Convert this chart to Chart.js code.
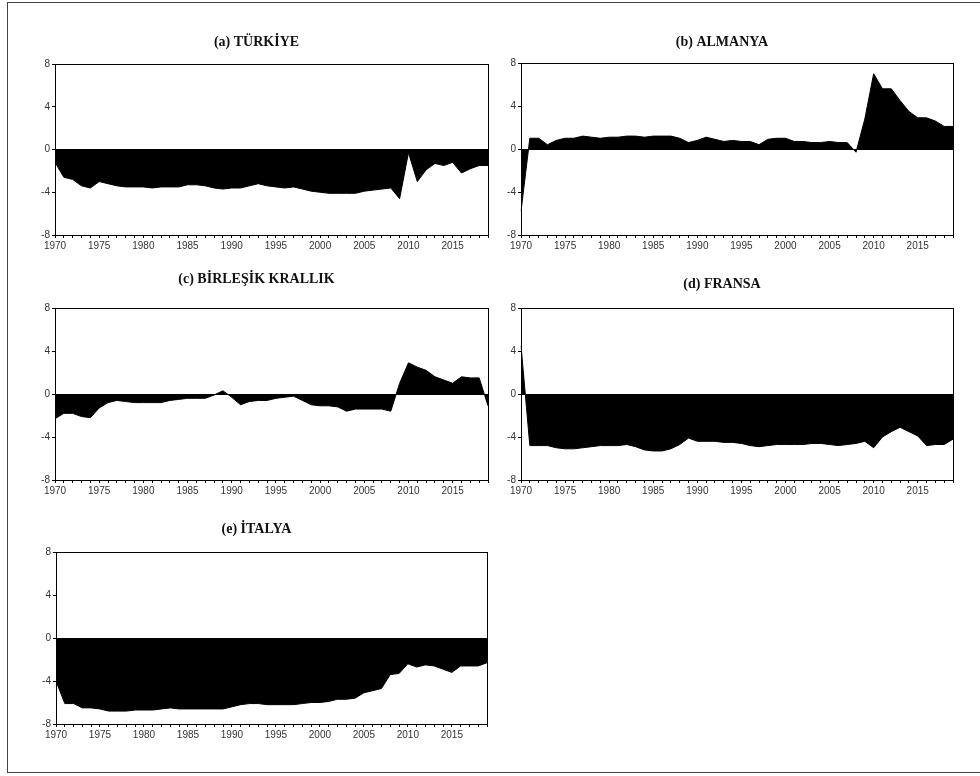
<!DOCTYPE html>
<html>
<head>
<meta charset="utf-8">
<script src="https://cdn.jsdelivr.net/npm/chart.js@4/dist/chart.umd.min.js"></script>
<style>
  body { margin: 0; background: #fff; width: 980px; height: 776px; overflow: hidden; position: relative; }
  #frame { position: absolute; left: 7px; top: 2px; width: 990px; height: 771px; border: 1px solid #444; box-sizing: border-box; }
  canvas { position: absolute; }
</style>
</head>
<body>
<div id="frame"></div>
<canvas id="c0"></canvas>
<canvas id="c1"></canvas>
<canvas id="c2"></canvas>
<canvas id="c3"></canvas>
<canvas id="c4"></canvas>
<script>
const years = [1970, 1971, 1972, 1973, 1974, 1975, 1976, 1977, 1978, 1979,
  1980, 1981, 1982, 1983, 1984, 1985, 1986, 1987, 1988, 1989,
  1990, 1991, 1992, 1993, 1994, 1995, 1996, 1997, 1998, 1999,
  2000, 2001, 2002, 2003, 2004, 2005, 2006, 2007, 2008, 2009,
  2010, 2011, 2012, 2013, 2014, 2015, 2016, 2017, 2018, 2019];
const yTicks = [8, 4, 0, -4, -8];

const turkiye = [-1.2, -2.6, -2.8, -3.4, -3.6, -3.0, -3.2, -3.4, -3.5, -3.5,
  -3.5, -3.6, -3.5, -3.5, -3.5, -3.3, -3.3, -3.4, -3.6, -3.7,
  -3.6, -3.6, -3.4, -3.2, -3.4, -3.5, -3.6, -3.5, -3.7, -3.9,
  -4.0, -4.1, -4.1, -4.1, -4.1, -3.9, -3.8, -3.7, -3.6, -4.6,
  -0.3, -3.0, -1.9, -1.3, -1.5, -1.2, -2.2, -1.8, -1.5, -1.5];
const almanya = [-5.8, 1.0, 1.0, 0.4, 0.8, 1.0, 1.0, 1.2, 1.1, 1.0,
  1.1, 1.1, 1.2, 1.2, 1.1, 1.2, 1.2, 1.2, 1.0, 0.6,
  0.8, 1.1, 0.9, 0.7, 0.8, 0.7, 0.7, 0.4, 0.9, 1.0,
  1.0, 0.7, 0.7, 0.6, 0.6, 0.7, 0.6, 0.6, -0.3, 2.8,
  7.0, 5.6, 5.6, 4.5, 3.5, 2.9, 2.9, 2.6, 2.1, 2.1];
const birlesikKrallik = [-2.3, -1.8, -1.8, -2.1, -2.2, -1.3, -0.8, -0.6, -0.7, -0.8,
  -0.8, -0.8, -0.8, -0.6, -0.5, -0.4, -0.4, -0.4, -0.1, 0.3,
  -0.3, -1.0, -0.7, -0.6, -0.6, -0.4, -0.3, -0.2, -0.6, -1.0,
  -1.1, -1.1, -1.2, -1.6, -1.4, -1.4, -1.4, -1.4, -1.6, 1.0,
  2.9, 2.5, 2.2, 1.6, 1.3, 1.0, 1.6, 1.5, 1.5, -1.1];
const fransa = [4.5, -4.8, -4.8, -4.8, -5.0, -5.1, -5.1, -5.0, -4.9, -4.8,
  -4.8, -4.8, -4.7, -4.9, -5.2, -5.3, -5.3, -5.1, -4.7, -4.1,
  -4.4, -4.4, -4.4, -4.5, -4.5, -4.6, -4.8, -4.9, -4.8, -4.7,
  -4.7, -4.7, -4.7, -4.6, -4.6, -4.7, -4.8, -4.7, -4.6, -4.4,
  -5.0, -4.0, -3.5, -3.1, -3.5, -3.9, -4.8, -4.7, -4.7, -4.2];
const italya = [-4.0, -6.1, -6.1, -6.5, -6.5, -6.6, -6.8, -6.8, -6.8, -6.7,
  -6.7, -6.7, -6.6, -6.5, -6.6, -6.6, -6.6, -6.6, -6.6, -6.6,
  -6.4, -6.2, -6.1, -6.1, -6.2, -6.2, -6.2, -6.2, -6.1, -6.0,
  -6.0, -5.9, -5.7, -5.7, -5.6, -5.1, -4.9, -4.7, -3.4, -3.3,
  -2.4, -2.7, -2.5, -2.6, -2.9, -3.2, -2.6, -2.6, -2.6, -2.3];

// plot boxes
const panels = [
  { id: 'c0', title: '(a) TÜRKİYE', data: turkiye, left: 55, right: 488, top: 64, bottom: 235, titleY: 42 },
  { id: 'c1', title: '(b) ALMANYA', data: almanya, left: 521, right: 953, top: 63, bottom: 235, titleY: 42 },
  { id: 'c2', title: '(c) BİRLEŞİK KRALLIK', data: birlesikKrallik, left: 55, right: 488, top: 308, bottom: 480, titleY: 279 },
  { id: 'c3', title: '(d) FRANSA', data: fransa, left: 521, right: 953, top: 308, bottom: 480, titleY: 284 },
  { id: 'c4', title: '(e) İTALYA', data: italya, left: 56, right: 487, top: 552, bottom: 724, titleY: 529 }
];

const frameBox = {
  id: 'frameBox',
  afterDatasetsDraw(chart) {
    const a = chart.chartArea;
    const ctx = chart.ctx;
    ctx.save();
    ctx.strokeStyle = '#000';
    ctx.lineWidth = 1;
    ctx.strokeRect(Math.round(a.left) + 0.5, Math.round(a.top) + 0.5, Math.round(a.right - a.left), Math.round(a.bottom - a.top));
    ctx.restore();
  }
};

panels.forEach(p => {
  const cv = document.getElementById(p.id);
  const cTop = p.titleY - 15;
  const w = p.right - p.left + 60;
  const h = p.bottom + 25 - cTop;
  cv.style.left = (p.left - 50) + 'px';
  cv.style.top = cTop + 'px';
  cv.width = w; cv.height = h;
  cv.style.width = w + 'px'; cv.style.height = h + 'px';

  new Chart(cv.getContext('2d'), {
    type: 'line',
    data: {
      labels: years,
      datasets: [{
        data: p.data,
        fill: 'origin',
        backgroundColor: '#000',
        borderColor: '#000',
        borderWidth: 1,
        pointRadius: 0,
        tension: 0
      }]
    },
    options: {
      responsive: false,
      animation: false,
      layout: { padding: { left: 20, right: 10, top: 8.5, bottom: 5 } },
      plugins: {
        legend: { display: false },
        tooltip: { enabled: false },
        title: {
          display: true,
          text: p.title,
          color: '#111',
          font: { family: '"Liberation Serif", "Times New Roman", serif', size: 14, weight: 'bold', lineHeight: 1 },
          padding: { top: 0, bottom: (p.top - cTop) - 8.5 - 14 }
        }
      },
      scales: {
        x: {
          type: 'category',
          offset: false,
          afterFit: s => { s.height = 20; },
          border: { display: true, color: '#000' },
          grid: { drawOnChartArea: false, drawTicks: true, tickLength: 3, color: '#000' },
          ticks: {
            autoSkip: false,
            maxRotation: 0,
            minRotation: 0,
            padding: 3,
            color: '#333',
            font: { family: '"Liberation Sans", Arial, sans-serif', size: 10, lineHeight: 1 },
            callback: (v, i) => years[i] % 5 === 0 ? String(years[i]) : ''
          }
        },
        y: {
          min: -8,
          max: 8,
          afterFit: s => { s.width = 30; },
          afterBuildTicks: s => { s.ticks = yTicks.map(v => ({ value: v })); },
          border: { display: true, color: '#000' },
          grid: {
            drawTicks: true,
            tickLength: 3,
            tickColor: '#000',
            color: ctx => (ctx.tick && ctx.tick.value === 0) ? '#000' : 'rgba(0,0,0,0)'
          },
          ticks: {
            padding: 2,
            color: '#333',
            font: { family: '"Liberation Sans", Arial, sans-serif', size: 10 }
          }
        }
      }
    },
    plugins: [frameBox]
  });
});
</script>
</body>
</html>
